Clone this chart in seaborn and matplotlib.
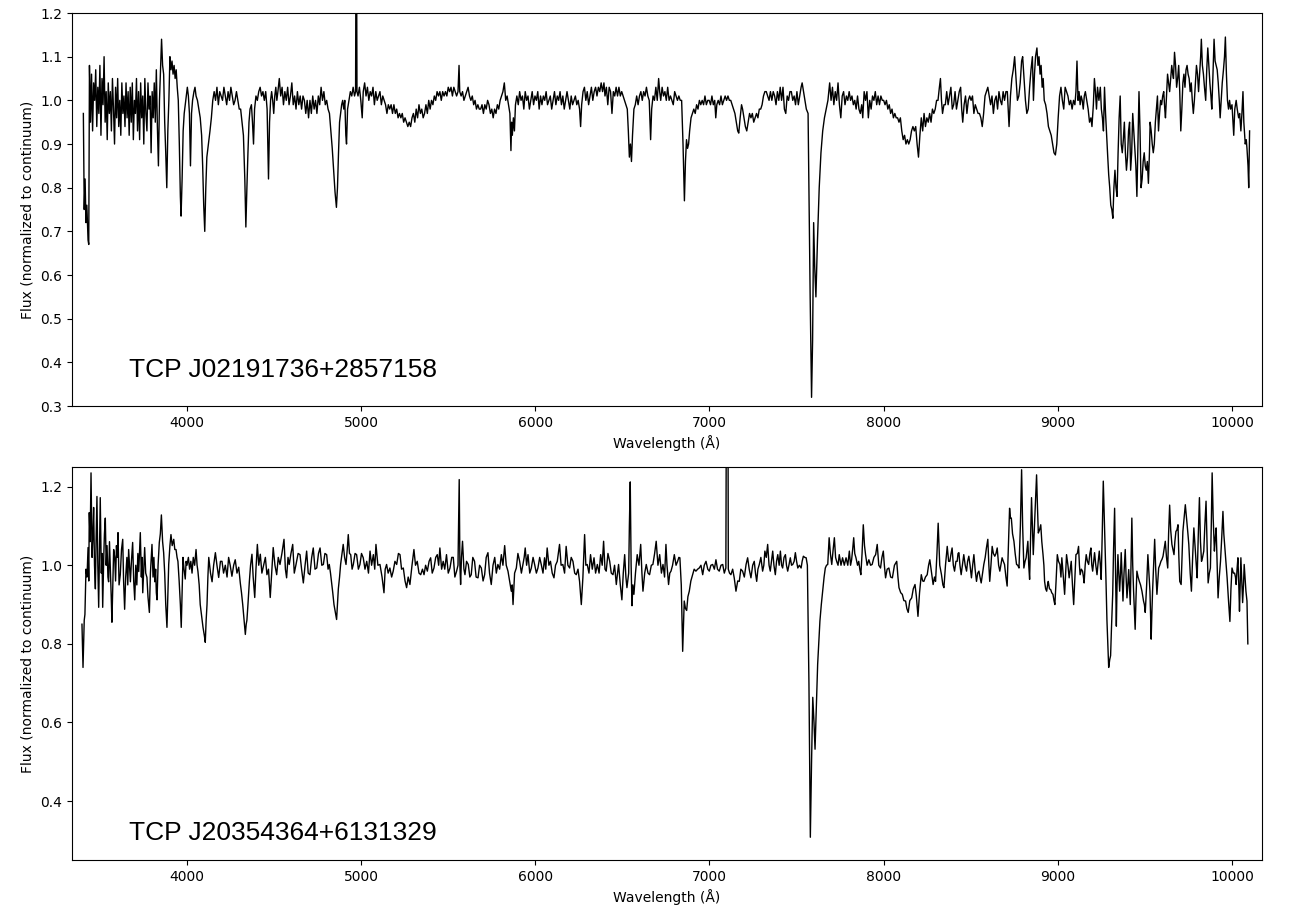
"""Two normalized spectra (TCP J02191736+2857158, TCP J20354364+6131329)."""

import matplotlib

matplotlib.use("Agg")
import matplotlib.pyplot as plt
import pandas as pd
import seaborn as sns

targets = ["TCP J02191736+2857158", "TCP J20354364+6131329"]

# (wavelength in Å, normalized flux)
spec_j0219 = [
    (3405, 0.97), (3410, 0.75), (3415, 0.82), (3420, 0.72), (3425, 0.76), (3432, 0.68),
    (3436, 0.67), (3440, 1.08), (3446, 0.95), (3452, 1.06), (3458, 0.93), (3464, 1.04),
    (3470, 1.00), (3476, 1.07), (3482, 0.94), (3488, 1.03), (3494, 0.97), (3500, 1.08),
    (3506, 0.92), (3512, 1.05), (3518, 0.99), (3524, 1.10), (3530, 0.95), (3536, 1.02),
    (3542, 0.91), (3548, 1.04), (3554, 0.97), (3560, 1.02), (3566, 0.93), (3572, 1.05),
    (3578, 0.98), (3584, 0.90), (3590, 1.03), (3596, 0.96), (3602, 1.05), (3608, 0.94),
    (3614, 1.00), (3620, 0.92), (3626, 1.04), (3632, 0.97), (3638, 1.01), (3644, 0.94),
    (3650, 1.04), (3656, 0.96), (3662, 1.02), (3668, 0.92), (3674, 1.03), (3680, 0.95),
    (3686, 1.04), (3692, 0.91), (3698, 1.00), (3704, 0.97), (3710, 1.05), (3716, 0.93),
    (3722, 1.02), (3728, 0.91), (3734, 1.04), (3740, 0.96), (3746, 1.01), (3752, 0.90),
    (3758, 1.05), (3764, 0.97), (3770, 0.93), (3776, 1.04), (3782, 0.98), (3788, 1.01),
    (3794, 0.88), (3800, 1.02), (3806, 0.96), (3812, 1.04), (3818, 0.95), (3824, 1.07),
    (3830, 0.94), (3836, 0.85), (3842, 1.00), (3848, 1.07), (3854, 1.14), (3860, 1.08),
    (3866, 1.06), (3872, 0.95), (3878, 0.88), (3884, 0.80), (3890, 0.93), (3896, 1.00),
    (3902, 1.10), (3908, 1.07), (3914, 1.09), (3920, 1.06), (3926, 1.08), (3932, 1.05),
    (3938, 1.07), (3944, 1.03), (3950, 1.00), (3956, 0.90), (3962, 0.78), (3966, 0.735),
    (3972, 0.82), (3978, 0.93), (3984, 0.97), (3990, 0.99), (3996, 1.01), (4002, 1.03),
    (4008, 1.01), (4014, 0.97), (4020, 0.85), (4026, 0.97), (4032, 1.00), (4040, 1.02),
    (4046, 1.03), (4052, 1.01), (4060, 1.00), (4068, 0.98), (4076, 0.96), (4084, 0.92),
    (4090, 0.85), (4096, 0.76), (4102, 0.70), (4108, 0.80), (4114, 0.87), (4120, 0.89),
    (4126, 0.91), (4132, 0.93), (4140, 0.96), (4148, 1.00), (4156, 1.02), (4164, 1.00),
    (4172, 1.03), (4180, 0.99), (4188, 1.02), (4196, 1.01), (4204, 1.00), (4212, 1.03),
    (4220, 1.01), (4228, 0.99), (4236, 1.02), (4244, 1.00), (4252, 1.03), (4260, 1.01),
    (4268, 0.99), (4276, 1.00), (4284, 1.02), (4292, 1.00), (4300, 0.98), (4308, 0.98),
    (4316, 0.95), (4324, 0.92), (4332, 0.82), (4338, 0.71), (4344, 0.80), (4350, 0.88),
    (4356, 0.95), (4362, 0.98), (4370, 0.99), (4376, 0.95), (4382, 0.90), (4388, 0.98),
    (4396, 1.01), (4404, 1.00), (4412, 1.02), (4420, 1.03), (4428, 1.01), (4436, 1.02),
    (4444, 1.00), (4452, 1.02), (4460, 0.98), (4468, 0.82), (4474, 0.95), (4480, 1.00),
    (4486, 1.02), (4492, 1.00), (4498, 0.97), (4504, 1.01), (4510, 1.03), (4516, 1.00),
    (4522, 1.02), (4530, 1.05), (4538, 1.01), (4546, 1.03), (4554, 0.99), (4562, 1.02),
    (4570, 1.00), (4578, 1.03), (4586, 0.99), (4594, 1.01), (4602, 1.04), (4610, 0.99),
    (4618, 1.01), (4626, 0.98), (4634, 1.02), (4642, 0.99), (4650, 1.01), (4658, 0.98),
    (4666, 1.01), (4674, 1.00), (4682, 0.97), (4690, 1.00), (4698, 0.96), (4706, 1.00),
    (4714, 0.97), (4722, 1.01), (4730, 0.98), (4738, 1.00), (4746, 0.97), (4754, 1.01),
    (4762, 0.99), (4770, 1.03), (4778, 1.00), (4786, 1.02), (4794, 0.99), (4802, 1.00),
    (4810, 0.98), (4818, 0.97), (4826, 0.93), (4834, 0.89), (4842, 0.84), (4850, 0.79),
    (4858, 0.755), (4864, 0.80), (4870, 0.88), (4876, 0.95), (4882, 0.97), (4888, 0.99),
    (4894, 1.00), (4900, 0.98), (4906, 1.00), (4912, 0.92), (4916, 0.90), (4922, 0.98),
    (4930, 1.00), (4938, 1.02), (4946, 1.01), (4954, 1.03), (4962, 1.01), (4968, 1.02),
    (4972, 1.60), (4976, 1.02), (4982, 1.01), (4990, 1.03), (4998, 1.00), (5006, 0.96),
    (5012, 1.02), (5020, 1.04), (5028, 1.01), (5036, 1.03), (5044, 1.00), (5052, 1.02),
    (5060, 1.01), (5068, 1.03), (5076, 0.99), (5084, 1.02), (5092, 1.00), (5100, 1.01),
    (5108, 1.02), (5116, 0.99), (5124, 1.01), (5132, 1.00), (5140, 0.99), (5148, 0.97),
    (5156, 0.99), (5164, 0.98), (5172, 0.99), (5180, 0.97), (5188, 0.99), (5196, 0.97),
    (5204, 0.98), (5212, 0.96), (5220, 0.97), (5228, 0.96), (5236, 0.97), (5244, 0.95),
    (5252, 0.96), (5260, 0.95), (5268, 0.94), (5276, 0.95), (5284, 0.94), (5292, 0.96),
    (5300, 0.97), (5308, 0.95), (5316, 0.98), (5324, 0.96), (5332, 0.99), (5340, 0.97),
    (5348, 0.98), (5356, 0.96), (5364, 0.97), (5372, 0.99), (5380, 0.97), (5388, 1.00),
    (5396, 0.98), (5404, 1.00), (5412, 0.99), (5420, 1.01), (5428, 1.00), (5436, 1.02),
    (5444, 1.01), (5452, 1.02), (5460, 1.00), (5468, 1.02), (5476, 1.01), (5484, 1.02),
    (5492, 1.01), (5500, 1.03), (5508, 1.02), (5516, 1.03), (5524, 1.01), (5532, 1.03),
    (5540, 1.02), (5548, 1.01), (5556, 1.02), (5562, 1.08), (5566, 1.02), (5574, 1.01),
    (5582, 1.02), (5590, 1.00), (5598, 1.01), (5606, 1.02), (5614, 1.03), (5622, 1.01),
    (5630, 1.00), (5638, 1.01), (5646, 0.99), (5654, 1.00), (5662, 0.98), (5670, 0.99),
    (5678, 0.98), (5686, 0.98), (5694, 0.99), (5702, 0.97), (5710, 0.99), (5718, 0.98),
    (5726, 1.00), (5734, 0.99), (5742, 0.97), (5750, 0.98), (5758, 0.96), (5766, 0.98),
    (5774, 0.97), (5782, 0.99), (5790, 0.98), (5798, 1.00), (5806, 1.01), (5814, 1.02),
    (5822, 1.04), (5830, 1.00), (5838, 1.01), (5846, 0.99), (5854, 0.97), (5860, 0.885),
    (5864, 0.95), (5868, 0.92), (5874, 0.96), (5880, 0.93), (5886, 0.99), (5894, 1.01),
    (5902, 0.99), (5910, 1.02), (5918, 1.00), (5926, 1.01), (5934, 0.98), (5942, 1.02),
    (5950, 1.00), (5958, 1.01), (5966, 0.98), (5974, 1.00), (5982, 1.02), (5990, 0.99),
    (5998, 1.01), (6006, 1.00), (6014, 1.02), (6022, 0.98), (6030, 1.01), (6038, 0.99),
    (6046, 1.01), (6054, 1.00), (6062, 1.02), (6070, 0.99), (6078, 1.00), (6086, 1.01),
    (6094, 0.98), (6102, 1.00), (6110, 1.02), (6118, 0.99), (6126, 1.01), (6134, 1.00),
    (6142, 1.02), (6150, 0.99), (6158, 1.01), (6166, 0.98), (6174, 1.00), (6182, 1.02),
    (6190, 1.00), (6198, 0.98), (6206, 1.01), (6214, 0.99), (6222, 1.00), (6230, 1.01),
    (6238, 0.99), (6246, 1.00), (6254, 0.98), (6260, 0.94), (6266, 0.99), (6274, 1.02),
    (6282, 1.03), (6290, 1.00), (6298, 1.02), (6306, 0.99), (6314, 1.01), (6322, 1.03),
    (6330, 1.00), (6338, 1.02), (6346, 1.03), (6354, 1.01), (6362, 1.03), (6370, 1.02),
    (6378, 1.04), (6386, 1.02), (6394, 1.04), (6400, 1.01), (6408, 1.03), (6416, 0.99),
    (6424, 1.03), (6432, 1.02), (6440, 0.97), (6448, 1.02), (6456, 1.01), (6464, 1.03),
    (6472, 1.01), (6480, 1.03), (6488, 1.01), (6496, 1.02), (6504, 1.01), (6512, 1.00),
    (6520, 0.99), (6528, 0.98), (6534, 0.93), (6540, 0.87), (6546, 0.90), (6552, 0.86),
    (6558, 0.92), (6566, 0.98), (6574, 0.99), (6582, 1.01), (6590, 0.99), (6598, 1.01),
    (6606, 1.02), (6614, 1.00), (6622, 1.02), (6630, 1.01), (6638, 1.03), (6646, 1.01),
    (6654, 1.00), (6662, 0.91), (6668, 0.98), (6676, 1.01), (6684, 1.00), (6692, 1.03),
    (6700, 1.00), (6708, 1.05), (6714, 1.02), (6720, 1.00), (6728, 1.03), (6736, 1.01),
    (6744, 1.02), (6752, 1.00), (6760, 1.03), (6768, 1.00), (6776, 1.01), (6784, 1.00),
    (6792, 0.99), (6800, 1.02), (6808, 1.01), (6816, 1.00), (6824, 1.01), (6832, 1.00),
    (6840, 1.00), (6848, 0.90), (6856, 0.77), (6862, 0.86), (6868, 0.91), (6874, 0.89),
    (6880, 0.90), (6886, 0.93), (6894, 0.96), (6902, 0.97), (6910, 0.98), (6918, 0.97),
    (6926, 0.99), (6934, 0.98), (6942, 1.00), (6950, 0.99), (6958, 1.00), (6966, 0.99),
    (6974, 1.01), (6982, 0.99), (6990, 1.00), (6998, 1.00), (7006, 0.99), (7014, 1.01),
    (7022, 0.99), (7030, 1.00), (7036, 0.96), (7042, 0.99), (7050, 1.00), (7058, 0.99),
    (7066, 1.01), (7074, 0.99), (7082, 1.00), (7090, 1.01), (7098, 1.00), (7106, 1.01),
    (7114, 1.00), (7122, 1.00), (7130, 0.99), (7138, 0.98), (7146, 0.97), (7154, 0.95),
    (7162, 0.93), (7168, 0.925), (7176, 0.96), (7184, 0.99), (7190, 0.98), (7198, 0.96),
    (7206, 0.94), (7214, 0.93), (7222, 0.95), (7230, 0.97), (7238, 0.96), (7246, 0.97),
    (7254, 0.95), (7262, 0.96), (7270, 0.97), (7278, 0.96), (7286, 0.98), (7294, 0.98),
    (7302, 0.99), (7310, 1.01), (7318, 1.02), (7326, 1.02), (7334, 1.01), (7342, 1.00),
    (7350, 1.02), (7358, 1.00), (7366, 1.02), (7374, 1.01), (7382, 0.99), (7390, 1.02),
    (7398, 1.00), (7406, 1.03), (7414, 1.00), (7422, 1.03), (7430, 0.98), (7438, 0.97),
    (7446, 1.01), (7454, 1.00), (7462, 1.02), (7470, 1.02), (7478, 1.00), (7486, 1.01),
    (7494, 0.99), (7502, 1.02), (7510, 0.99), (7518, 1.01), (7526, 1.03), (7532, 1.04),
    (7540, 1.02), (7548, 1.00), (7556, 0.98), (7566, 0.97), (7578, 0.55), (7586, 0.32),
    (7592, 0.45), (7598, 0.72), (7604, 0.62), (7611, 0.55), (7620, 0.68), (7630, 0.80),
    (7640, 0.88), (7650, 0.93), (7660, 0.96), (7670, 0.98), (7680, 1.00), (7690, 1.04),
    (7698, 1.00), (7706, 1.03), (7714, 0.99), (7722, 1.02), (7730, 1.00), (7738, 1.04),
    (7746, 0.99), (7754, 0.96), (7762, 1.01), (7770, 1.02), (7778, 0.99), (7786, 1.01),
    (7794, 1.00), (7802, 1.02), (7810, 1.00), (7818, 1.01), (7826, 0.99), (7834, 1.00),
    (7842, 0.98), (7850, 1.01), (7858, 0.98), (7866, 0.97), (7874, 0.99), (7880, 0.96),
    (7888, 1.02), (7896, 1.00), (7904, 1.02), (7912, 0.96), (7920, 1.00), (7928, 0.98),
    (7936, 1.01), (7944, 1.00), (7952, 1.02), (7960, 0.99), (7968, 1.01), (7976, 0.99),
    (7984, 1.01), (7992, 1.00), (8000, 1.00), (8008, 0.99), (8016, 1.00), (8024, 0.98),
    (8032, 0.99), (8040, 0.97), (8048, 0.98), (8056, 0.96), (8064, 0.97), (8072, 0.96),
    (8080, 0.96), (8088, 0.95), (8096, 0.96), (8104, 0.93), (8112, 0.91), (8120, 0.92),
    (8128, 0.90), (8136, 0.91), (8144, 0.90), (8152, 0.91), (8160, 0.93), (8168, 0.94),
    (8176, 0.93), (8184, 0.94), (8192, 0.90), (8200, 0.87), (8208, 0.92), (8216, 0.96),
    (8224, 0.93), (8232, 0.97), (8240, 0.94), (8248, 0.96), (8256, 0.95), (8264, 0.97),
    (8272, 0.95), (8280, 0.98), (8288, 0.97), (8296, 0.98), (8304, 1.00), (8312, 1.00),
    (8320, 1.03), (8326, 1.05), (8332, 1.00), (8338, 0.97), (8346, 0.99), (8354, 0.99),
    (8362, 1.02), (8370, 0.99), (8378, 1.01), (8386, 1.03), (8394, 0.98), (8402, 0.99),
    (8410, 1.02), (8418, 0.98), (8426, 1.00), (8434, 1.02), (8442, 1.03), (8448, 0.98),
    (8454, 0.95), (8462, 0.99), (8470, 1.01), (8478, 0.97), (8486, 1.00), (8494, 1.01),
    (8502, 1.00), (8510, 1.01), (8518, 0.97), (8526, 0.99), (8534, 0.98), (8542, 0.97),
    (8550, 0.97), (8558, 0.96), (8566, 0.94), (8574, 0.97), (8582, 1.01), (8590, 1.02),
    (8598, 1.03), (8606, 1.01), (8614, 0.99), (8622, 1.01), (8630, 0.97), (8638, 1.00),
    (8646, 1.01), (8654, 0.98), (8662, 1.02), (8670, 1.00), (8678, 0.99), (8686, 1.02),
    (8694, 1.00), (8702, 1.02), (8710, 1.02), (8716, 0.97), (8720, 0.94), (8728, 1.01),
    (8736, 1.05), (8744, 1.07), (8752, 1.10), (8760, 1.05), (8768, 1.00), (8776, 1.01),
    (8784, 1.04), (8792, 1.09), (8798, 1.10), (8806, 1.05), (8814, 1.00), (8822, 0.97),
    (8830, 0.98), (8838, 1.03), (8846, 1.07), (8854, 1.10), (8860, 1.00), (8866, 1.06),
    (8872, 1.10), (8880, 1.12), (8886, 1.08), (8892, 1.10), (8898, 1.06), (8904, 1.08),
    (8910, 1.03), (8916, 1.05), (8922, 1.00), (8930, 0.99), (8938, 0.97), (8946, 0.94),
    (8954, 0.93), (8962, 0.92), (8970, 0.90), (8978, 0.88), (8986, 0.875), (8994, 0.90),
    (9002, 0.96), (9010, 1.01), (9018, 1.03), (9026, 1.00), (9034, 0.98), (9042, 1.03),
    (9050, 1.02), (9058, 1.01), (9066, 0.99), (9074, 1.00), (9082, 0.98), (9090, 1.00),
    (9098, 0.99), (9104, 1.02), (9110, 1.09), (9116, 1.00), (9122, 1.02), (9128, 0.99),
    (9134, 1.01), (9140, 1.00), (9146, 0.98), (9152, 1.01), (9158, 1.02), (9166, 1.00),
    (9174, 0.98), (9182, 0.95), (9190, 0.96), (9196, 0.94), (9204, 0.99), (9210, 1.05),
    (9216, 1.02), (9222, 0.98), (9228, 1.03), (9236, 1.00), (9244, 1.03), (9250, 0.98),
    (9256, 0.96), (9262, 0.93), (9268, 1.03), (9274, 0.97), (9280, 0.92), (9286, 0.875),
    (9292, 0.83), (9298, 0.80), (9304, 0.76), (9310, 0.75), (9316, 0.73), (9322, 0.80),
    (9328, 0.84), (9334, 0.80), (9340, 0.78), (9346, 0.88), (9352, 0.96), (9358, 1.01),
    (9364, 0.90), (9370, 0.88), (9376, 0.91), (9382, 0.95), (9388, 0.88), (9394, 0.84),
    (9400, 0.87), (9406, 0.93), (9412, 0.95), (9418, 0.84), (9424, 0.88), (9430, 0.97),
    (9436, 0.93), (9442, 0.89), (9448, 0.85), (9454, 0.78), (9460, 0.90), (9466, 1.02),
    (9472, 0.93), (9478, 0.80), (9484, 0.82), (9490, 0.86), (9496, 0.88), (9502, 0.85),
    (9508, 0.84), (9514, 0.86), (9520, 0.81), (9526, 0.88), (9530, 0.95), (9536, 0.93),
    (9542, 0.90), (9548, 0.88), (9554, 0.90), (9560, 0.95), (9566, 0.98), (9572, 1.01),
    (9578, 0.93), (9584, 0.97), (9590, 1.00), (9596, 0.99), (9602, 1.01), (9608, 1.02),
    (9614, 0.98), (9618, 0.96), (9624, 1.01), (9630, 1.06), (9636, 1.04), (9642, 1.02),
    (9648, 1.05), (9654, 1.08), (9660, 1.06), (9664, 1.05), (9670, 1.11), (9676, 1.08),
    (9682, 1.03), (9688, 1.05), (9694, 1.08), (9700, 1.02), (9706, 0.93), (9712, 0.98),
    (9718, 1.04), (9724, 1.06), (9730, 1.03), (9736, 1.07), (9742, 1.08), (9748, 1.06),
    (9754, 1.05), (9760, 1.02), (9766, 1.04), (9772, 1.00), (9778, 0.97), (9784, 1.00),
    (9790, 1.04), (9796, 1.08), (9802, 1.06), (9808, 1.02), (9814, 1.06), (9820, 1.10),
    (9824, 1.14), (9830, 1.08), (9836, 1.06), (9842, 1.03), (9849, 1.00), (9855, 1.07),
    (9861, 1.12), (9867, 1.08), (9873, 1.04), (9879, 1.01), (9884, 0.98), (9890, 1.05),
    (9897, 1.14), (9903, 1.09), (9909, 1.08), (9915, 1.07), (9921, 1.04), (9927, 1.00),
    (9932, 0.96), (9938, 1.00), (9944, 1.04), (9951, 1.07), (9957, 1.10), (9962, 1.145),
    (9968, 1.06), (9974, 1.00), (9980, 0.98), (9986, 1.00), (9992, 0.98), (10000, 0.99),
    (10006, 0.95), (10010, 0.92), (10016, 0.98), (10024, 1.00), (10030, 0.98), (10038, 0.96),
    (10044, 0.97), (10051, 0.93), (10057, 0.97), (10063, 1.02), (10068, 0.95), (10076, 0.90),
    (10082, 0.91), (10086, 0.89), (10092, 0.85), (10096, 0.80), (10101, 0.93),
]

spec_j2035 = [
    (3397, 0.85), (3403, 0.74), (3410, 0.86), (3414, 0.875), (3420, 0.99), (3426, 0.97),
    (3432, 1.045), (3436, 0.96), (3439, 1.134), (3444, 1.06), (3449, 1.235), (3455, 1.02),
    (3460, 1.08), (3464, 1.147), (3469, 1.00), (3474, 0.94), (3478, 1.06), (3483, 1.175),
    (3488, 1.00), (3493, 0.893), (3498, 1.05), (3502, 1.172), (3508, 0.98), (3512, 1.03),
    (3516, 0.893), (3522, 1.02), (3526, 1.08), (3531, 1.12), (3536, 1.00), (3541, 1.05),
    (3546, 0.97), (3550, 0.958), (3555, 1.06), (3560, 0.99), (3565, 0.92), (3569, 0.855),
    (3574, 0.95), (3579, 1.04), (3585, 1.02), (3590, 0.96), (3595, 1.05), (3600, 1.02),
    (3604, 1.083), (3610, 0.95), (3617, 0.976), (3624, 1.04), (3631, 1.066), (3636, 0.96),
    (3642, 0.888), (3648, 0.97), (3655, 1.02), (3660, 0.95), (3665, 1.04), (3670, 1.00),
    (3675, 0.958), (3681, 1.01), (3688, 1.058), (3694, 0.96), (3700, 0.912), (3706, 1.00),
    (3712, 0.95), (3718, 1.03), (3723, 0.984), (3728, 1.04), (3732, 1.083), (3738, 0.97),
    (3742, 1.02), (3746, 0.93), (3752, 0.99), (3757, 1.045), (3763, 0.98), (3770, 0.969),
    (3776, 0.92), (3784, 0.88), (3790, 0.98), (3795, 1.02), (3799, 1.053), (3805, 0.97),
    (3810, 1.02), (3815, 0.958), (3820, 0.99), (3824, 0.93), (3828, 0.912), (3834, 1.00),
    (3841, 1.058), (3847, 1.08), (3853, 1.128), (3860, 1.06), (3866, 1.032), (3872, 0.98),
    (3878, 0.90), (3885, 0.842), (3890, 0.92), (3895, 1.002), (3902, 1.05), (3908, 1.078),
    (3915, 1.05), (3924, 1.066), (3930, 1.04), (3937, 1.04), (3943, 1.02), (3948, 1.01),
    (3955, 0.96), (3962, 0.90), (3967, 0.842), (3972, 0.93), (3977, 1.02), (3983, 0.99),
    (3990, 0.965), (3995, 1.01), (4000, 1.00), (4008, 1.02), (4015, 0.99), (4022, 1.01),
    (4029, 0.98), (4036, 1.02), (4044, 1.00), (4052, 1.04), (4058, 1.00), (4063, 0.984),
    (4070, 0.95), (4076, 0.90), (4084, 0.87), (4092, 0.842), (4100, 0.82), (4105, 0.804),
    (4110, 0.86), (4115, 0.90), (4120, 0.97), (4125, 1.02), (4135, 0.98), (4144, 0.958),
    (4153, 1.00), (4163, 1.032), (4172, 1.00), (4182, 0.969), (4192, 1.01), (4201, 1.01),
    (4210, 0.98), (4220, 1.00), (4230, 0.97), (4239, 1.02), (4248, 1.00), (4258, 0.972),
    (4268, 1.00), (4277, 1.014), (4287, 0.98), (4297, 0.995), (4306, 0.955), (4313, 0.93),
    (4320, 0.90), (4328, 0.86), (4335, 0.824), (4340, 0.85), (4344, 0.86), (4350, 0.90),
    (4358, 0.958), (4365, 1.00), (4373, 1.028), (4380, 0.97), (4389, 0.918), (4396, 0.99),
    (4404, 1.053), (4412, 1.00), (4421, 1.028), (4430, 0.98), (4440, 1.00), (4450, 1.02),
    (4459, 0.976), (4468, 0.99), (4478, 0.918), (4486, 0.98), (4495, 1.045), (4505, 1.00),
    (4515, 0.976), (4524, 1.02), (4534, 1.002), (4545, 1.03), (4557, 1.066), (4565, 0.99),
    (4572, 0.968), (4580, 1.02), (4587, 1.002), (4597, 1.03), (4607, 1.053), (4616, 0.98),
    (4626, 1.002), (4638, 1.03), (4649, 1.027), (4658, 0.99), (4668, 0.955), (4678, 1.00),
    (4687, 1.036), (4696, 0.98), (4706, 0.976), (4716, 1.02), (4725, 1.044), (4735, 0.99),
    (4745, 0.993), (4755, 1.03), (4764, 1.044), (4774, 1.00), (4783, 1.002), (4792, 1.03),
    (4802, 1.027), (4810, 0.99), (4817, 1.002), (4824, 0.98), (4830, 0.958), (4837, 0.93),
    (4844, 0.90), (4852, 0.88), (4859, 0.862), (4864, 0.90), (4869, 0.94), (4876, 0.97),
    (4882, 1.002), (4890, 1.03), (4897, 1.053), (4905, 1.02), (4913, 1.002), (4920, 1.04),
    (4926, 1.078), (4933, 1.03), (4940, 1.027), (4948, 0.99), (4955, 1.002), (4965, 1.03),
    (4974, 1.027), (4984, 0.99), (4993, 1.002), (5002, 1.03), (5012, 1.019), (5022, 0.99),
    (5032, 1.010), (5042, 0.98), (5051, 1.036), (5060, 1.00), (5070, 1.027), (5078, 0.99),
    (5085, 1.053), (5096, 1.00), (5108, 1.002), (5120, 0.97), (5131, 0.93), (5138, 0.99),
    (5146, 1.002), (5155, 0.98), (5165, 0.993), (5175, 0.97), (5184, 0.985), (5194, 1.01),
    (5204, 1.002), (5214, 1.03), (5223, 1.027), (5232, 0.99), (5242, 0.993), (5252, 0.96),
    (5261, 0.943), (5270, 0.97), (5280, 0.951), (5292, 1.00), (5303, 1.04), (5312, 1.00),
    (5322, 1.010), (5332, 0.98), (5342, 0.976), (5352, 0.99), (5361, 0.976), (5370, 1.00),
    (5380, 0.985), (5390, 1.01), (5399, 1.019), (5408, 0.98), (5418, 0.993), (5428, 1.02),
    (5437, 1.027), (5445, 1.00), (5452, 1.044), (5462, 0.99), (5471, 1.010), (5480, 0.99),
    (5490, 1.027), (5500, 0.98), (5510, 0.993), (5520, 1.02), (5529, 1.02), (5538, 0.97),
    (5548, 0.985), (5556, 1.00), (5563, 1.218), (5567, 1.00), (5571, 0.951), (5576, 1.02),
    (5582, 1.061), (5590, 0.99), (5596, 0.976), (5605, 1.01), (5615, 1.002), (5624, 0.97),
    (5632, 0.976), (5641, 1.02), (5651, 1.010), (5660, 0.97), (5671, 0.968), (5680, 1.00),
    (5690, 0.993), (5700, 0.96), (5709, 0.976), (5718, 1.02), (5728, 1.032), (5737, 0.98),
    (5747, 0.951), (5757, 1.00), (5767, 1.02), (5776, 0.98), (5785, 1.002), (5795, 0.99),
    (5805, 1.027), (5814, 1.00), (5824, 1.05), (5833, 1.00), (5843, 0.985), (5852, 0.96),
    (5862, 0.934), (5867, 0.95), (5872, 0.900), (5881, 0.98), (5891, 0.993), (5900, 1.03),
    (5910, 1.010), (5920, 0.98), (5929, 1.002), (5936, 1.02), (5942, 1.044), (5950, 1.00),
    (5958, 1.027), (5968, 0.98), (5977, 0.993), (5987, 1.02), (5996, 1.002), (6006, 0.98),
    (6015, 0.993), (6025, 1.02), (6034, 1.002), (6044, 0.98), (6053, 1.019), (6060, 0.99),
    (6068, 1.044), (6078, 1.00), (6087, 1.010), (6097, 0.98), (6107, 0.968), (6116, 1.00),
    (6126, 1.010), (6132, 1.03), (6139, 1.053), (6148, 1.00), (6158, 1.002), (6168, 0.98),
    (6177, 1.048), (6187, 1.00), (6197, 0.993), (6206, 1.02), (6216, 1.010), (6226, 0.98),
    (6235, 0.976), (6245, 0.99), (6254, 0.959), (6264, 0.900), (6273, 0.968), (6283, 1.078),
    (6290, 1.00), (6298, 1.002), (6308, 0.98), (6317, 1.027), (6327, 0.99), (6337, 1.019),
    (6346, 0.98), (6356, 1.002), (6366, 0.98), (6375, 1.027), (6384, 1.00), (6392, 1.061),
    (6400, 0.99), (6407, 0.985), (6417, 1.03), (6427, 1.010), (6436, 0.98), (6446, 0.976),
    (6455, 1.00), (6465, 0.951), (6472, 0.98), (6478, 1.002), (6488, 0.95), (6497, 0.912),
    (6505, 0.98), (6513, 1.027), (6520, 0.97), (6526, 0.943), (6536, 0.98), (6540, 1.10),
    (6545, 1.212), (6550, 1.00), (6555, 0.897), (6560, 0.95), (6566, 0.926), (6575, 0.98),
    (6585, 1.027), (6595, 1.00), (6605, 1.053), (6612, 0.98), (6618, 0.934), (6628, 0.98),
    (6637, 1.002), (6647, 0.98), (6656, 0.976), (6666, 1.00), (6675, 1.002), (6685, 1.03),
    (6694, 1.061), (6704, 1.00), (6714, 1.027), (6724, 0.98), (6733, 1.002), (6742, 0.97),
    (6750, 1.053), (6756, 1.00), (6765, 0.951), (6772, 0.98), (6779, 0.985), (6788, 1.00),
    (6798, 1.027), (6808, 1.00), (6817, 1.010), (6824, 1.02), (6830, 1.019), (6838, 0.95),
    (6846, 0.781), (6851, 0.85), (6855, 0.909), (6862, 0.89), (6869, 0.885), (6876, 0.92),
    (6884, 0.934), (6893, 0.96), (6903, 0.976), (6912, 0.99), (6922, 0.985), (6932, 0.99),
    (6941, 0.993), (6951, 1.00), (6961, 0.976), (6970, 1.00), (6980, 1.010), (6990, 0.99),
    (6999, 0.985), (7008, 1.00), (7018, 1.002), (7028, 0.99), (7037, 1.014), (7046, 0.99),
    (7056, 0.985), (7066, 1.00), (7076, 1.002), (7085, 0.98), (7094, 0.993), (7100, 1.90),
    (7104, 1.90), (7108, 0.99), (7115, 0.98), (7123, 0.976), (7133, 0.99), (7142, 0.968),
    (7152, 0.934), (7162, 0.96), (7171, 0.959), (7180, 0.99), (7190, 0.985), (7200, 0.97),
    (7210, 1.002), (7219, 1.019), (7228, 0.99), (7238, 0.968), (7248, 1.00), (7257, 1.010),
    (7264, 0.98), (7271, 0.959), (7278, 0.99), (7286, 1.002), (7295, 1.02), (7305, 0.985),
    (7312, 1.00), (7318, 1.036), (7326, 1.02), (7334, 1.053), (7342, 1.00), (7349, 0.985),
    (7356, 1.01), (7363, 1.036), (7370, 1.00), (7378, 0.976), (7385, 1.01), (7392, 1.027),
    (7400, 1.00), (7407, 1.036), (7414, 1.00), (7420, 0.993), (7428, 1.02), (7436, 1.027),
    (7442, 1.00), (7449, 0.985), (7456, 1.00), (7464, 1.019), (7471, 1.00), (7478, 1.002),
    (7486, 1.01), (7493, 1.032), (7500, 1.01), (7507, 0.993), (7516, 1.00), (7526, 0.993),
    (7532, 1.01), (7539, 1.023), (7547, 1.02), (7555, 1.019), (7562, 1.00), (7571, 0.70),
    (7579, 0.308), (7586, 0.50), (7593, 0.664), (7600, 0.60), (7606, 0.532), (7614, 0.65),
    (7621, 0.748), (7628, 0.81), (7634, 0.858), (7642, 0.90), (7650, 0.934), (7658, 0.97),
    (7665, 0.993), (7672, 1.00), (7679, 1.002), (7687, 1.07), (7694, 1.03), (7702, 1.002),
    (7710, 1.04), (7717, 1.07), (7724, 1.02), (7730, 1.010), (7738, 1.00), (7745, 1.027),
    (7755, 1.00), (7764, 1.019), (7774, 1.00), (7784, 1.019), (7794, 1.00), (7803, 1.036),
    (7810, 1.00), (7816, 1.014), (7822, 1.04), (7828, 1.07), (7834, 1.03), (7841, 1.019),
    (7850, 1.00), (7857, 1.010), (7863, 0.99), (7869, 0.976), (7876, 1.03), (7883, 1.103),
    (7890, 1.05), (7896, 1.027), (7905, 1.00), (7915, 1.014), (7925, 1.00), (7934, 1.002),
    (7944, 1.02), (7954, 1.027), (7963, 1.053), (7972, 1.00), (7982, 0.993), (7990, 1.02),
    (7998, 1.036), (8004, 1.00), (8011, 0.968), (8020, 0.99), (8030, 0.993), (8040, 0.97),
    (8050, 0.968), (8062, 1.00), (8075, 1.010), (8082, 0.97), (8088, 0.943), (8098, 0.93),
    (8107, 0.926), (8116, 0.91), (8126, 0.909), (8133, 0.89), (8141, 0.880), (8150, 0.91),
    (8161, 0.917), (8170, 0.94), (8180, 0.951), (8188, 0.92), (8197, 0.870), (8206, 0.93),
    (8216, 0.976), (8224, 0.96), (8231, 0.959), (8240, 0.97), (8250, 0.976), (8258, 1.00),
    (8265, 1.014), (8275, 0.98), (8284, 0.951), (8292, 0.97), (8298, 0.959), (8306, 1.03),
    (8313, 1.107), (8322, 1.00), (8332, 0.976), (8340, 0.95), (8346, 0.943), (8355, 1.00),
    (8365, 1.048), (8373, 1.01), (8380, 1.010), (8387, 1.03), (8393, 1.044), (8400, 1.00),
    (8407, 0.985), (8415, 1.01), (8422, 1.010), (8427, 1.03), (8432, 1.032), (8438, 1.00),
    (8445, 0.976), (8452, 1.00), (8460, 1.027), (8468, 1.00), (8476, 0.985), (8482, 1.01),
    (8489, 1.023), (8496, 1.00), (8504, 0.968), (8511, 1.00), (8518, 1.027), (8525, 0.99),
    (8533, 0.959), (8540, 0.98), (8547, 0.985), (8553, 0.97), (8560, 0.955), (8568, 0.98),
    (8575, 1.002), (8583, 1.02), (8590, 1.044), (8598, 1.066), (8604, 1.00), (8609, 0.959),
    (8616, 1.00), (8623, 1.048), (8630, 1.03), (8638, 1.023), (8645, 1.03), (8652, 1.044),
    (8660, 1.00), (8667, 0.985), (8673, 1.00), (8680, 1.019), (8687, 1.01), (8694, 1.002),
    (8702, 0.97), (8709, 0.947), (8716, 1.05), (8723, 1.145), (8728, 1.12), (8733, 1.12),
    (8740, 1.08), (8748, 1.061), (8755, 1.03), (8763, 1.002), (8770, 1.00), (8777, 0.993),
    (8785, 1.10), (8792, 1.243), (8798, 1.10), (8805, 0.993), (8812, 1.01), (8818, 1.019),
    (8823, 1.04), (8828, 1.061), (8833, 1.00), (8838, 0.964), (8844, 1.08), (8849, 1.172),
    (8854, 1.10), (8859, 1.027), (8864, 1.08), (8868, 1.125), (8873, 1.18), (8878, 1.23),
    (8883, 1.15), (8888, 1.082), (8895, 1.09), (8902, 1.103), (8908, 1.06), (8915, 1.027),
    (8920, 1.00), (8924, 0.959), (8930, 0.94), (8936, 0.934), (8941, 0.95), (8945, 0.959),
    (8952, 0.94), (8959, 0.938), (8965, 0.93), (8972, 0.926), (8978, 0.91), (8983, 0.900),
    (8990, 0.96), (8997, 1.027), (9004, 1.01), (9012, 1.002), (9018, 0.97), (9023, 1.019),
    (9030, 0.98), (9039, 0.926), (9045, 0.98), (9050, 1.027), (9058, 1.00), (9065, 0.968),
    (9071, 0.99), (9077, 1.010), (9084, 0.95), (9091, 0.900), (9098, 0.97), (9104, 1.027),
    (9112, 1.03), (9119, 1.048), (9124, 1.00), (9128, 0.976), (9135, 0.99), (9142, 0.985),
    (9147, 0.97), (9151, 0.955), (9157, 1.00), (9163, 1.027), (9170, 1.01), (9177, 1.002),
    (9184, 1.03), (9190, 1.044), (9195, 1.00), (9200, 0.985), (9206, 1.01), (9211, 1.032),
    (9218, 1.00), (9225, 0.976), (9232, 1.01), (9238, 1.036), (9244, 1.00), (9249, 0.964),
    (9255, 1.08), (9261, 1.214), (9265, 1.15), (9269, 1.095), (9276, 0.97), (9282, 0.860),
    (9287, 0.80), (9292, 0.740), (9298, 0.76), (9303, 0.770), (9308, 0.84), (9315, 0.926),
    (9320, 1.04), (9326, 1.145), (9331, 1.00), (9336, 0.845), (9340, 0.95), (9345, 1.027),
    (9350, 0.98), (9355, 0.934), (9360, 0.98), (9364, 1.032), (9369, 0.97), (9374, 0.909),
    (9380, 0.98), (9387, 1.040), (9392, 0.97), (9397, 0.917), (9402, 0.95), (9407, 0.989),
    (9411, 0.95), (9416, 0.900), (9420, 1.00), (9425, 1.12), (9430, 1.00), (9435, 0.934),
    (9440, 0.88), (9444, 0.837), (9449, 0.92), (9454, 0.985), (9461, 0.97), (9468, 0.959),
    (9475, 0.95), (9483, 0.934), (9488, 0.92), (9492, 0.909), (9497, 0.90), (9502, 0.880),
    (9510, 0.95), (9517, 1.027), (9523, 0.98), (9529, 0.934), (9533, 0.87), (9536, 0.812),
    (9540, 0.88), (9544, 0.934), (9550, 1.00), (9556, 1.066), (9562, 0.99), (9569, 0.926),
    (9574, 0.96), (9579, 0.993), (9585, 1.00), (9592, 1.010), (9598, 1.015), (9604, 1.023),
    (9610, 1.04), (9617, 1.061), (9624, 1.02), (9631, 0.993), (9636, 1.08), (9642, 1.153),
    (9648, 1.09), (9655, 1.053), (9661, 1.04), (9667, 1.027), (9672, 1.06), (9678, 1.086),
    (9684, 1.09), (9690, 1.103), (9695, 1.02), (9700, 0.959), (9704, 0.955), (9708, 0.951),
    (9713, 1.02), (9718, 1.086), (9725, 1.12), (9732, 1.154), (9737, 1.13), (9742, 1.103),
    (9747, 1.08), (9752, 1.053), (9760, 0.98), (9767, 0.934), (9774, 1.02), (9781, 1.095),
    (9786, 1.06), (9790, 1.036), (9795, 1.00), (9800, 0.968), (9806, 1.07), (9813, 1.172),
    (9819, 1.06), (9825, 1.010), (9831, 1.02), (9838, 1.036), (9844, 1.10), (9851, 1.163),
    (9857, 1.05), (9863, 0.955), (9870, 0.98), (9876, 0.993), (9881, 1.10), (9886, 1.235),
    (9892, 1.12), (9899, 1.036), (9904, 1.07), (9909, 1.095), (9915, 1.00), (9920, 0.917),
    (9927, 0.97), (9934, 1.010), (9941, 1.07), (9948, 1.137), (9953, 1.08), (9959, 1.044),
    (9966, 1.00), (9972, 0.968), (9980, 0.91), (9988, 0.857), (9994, 0.94), (10000, 0.993),
    (10008, 0.98), (10015, 0.980), (10020, 0.97), (10024, 0.951), (10029, 0.99), (10034, 1.019),
    (10039, 0.95), (10043, 0.883), (10047, 0.95), (10051, 1.019), (10056, 0.96), (10061, 0.905),
    (10066, 0.95), (10070, 1.002), (10075, 0.97), (10080, 0.934), (10086, 0.909), (10091, 0.80),
]

y_limits = [(0.3, 1.2), (0.25, 1.25)]
y_ticks = [
    [0.3, 0.4, 0.5, 0.6, 0.7, 0.8, 0.9, 1.0, 1.1, 1.2],
    [0.4, 0.6, 0.8, 1.0, 1.2],
]
x_ticks = [4000, 5000, 6000, 7000, 8000, 9000, 10000]
label_y = [0.367, 0.30]  # baseline of the object name, data units

fig, axes = plt.subplots(2, 1, figsize=(12.91, 9.10), dpi=100)
fig.subplots_adjust(left=0.0558, right=0.9775, top=0.9857, bottom=0.0549, hspace=0.155)

for ax, name, spec, ylim, yt, ly in zip(
    axes, targets, (spec_j0219, spec_j2035), y_limits, y_ticks, label_y
):
    df = pd.DataFrame(spec, columns=["wave", "flux"])
    sns.lineplot(data=df, x="wave", y="flux", ax=ax, color="black",
                 linewidth=1.0, estimator=None, sort=False)
    ax.set_xlim(3340, 10172)
    ax.set_ylim(*ylim)
    ax.set_xticks(x_ticks)
    ax.set_yticks(yt)
    ax.set_xlabel("Wavelength (Å)")
    ax.set_ylabel("Flux (normalized to continuum)")
    ax.text(3665, ly, name, fontsize=19, family="Liberation Sans", va="baseline")

fig.savefig("out.png", dpi=100)
plt.close(fig)
